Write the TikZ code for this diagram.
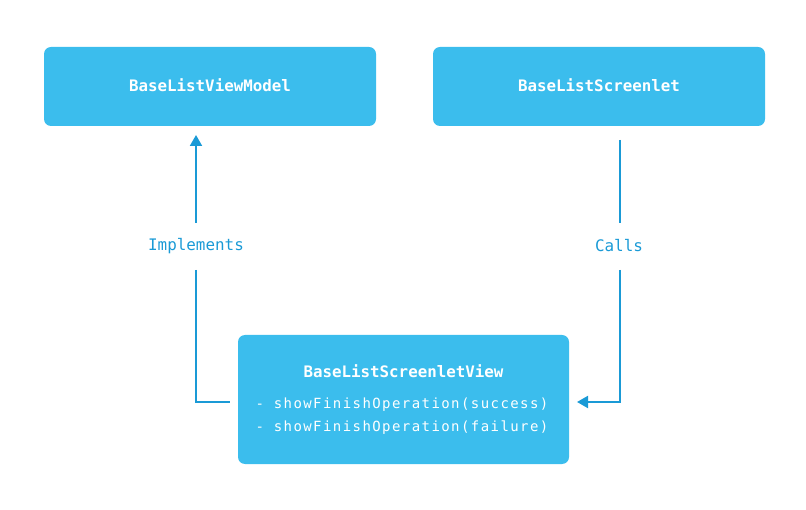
\documentclass[tikz,border=0pt]{standalone}
\usepackage{fontspec}
\setmonofont{DejaVu Sans Mono}
\newfontfamily\bodymono[LetterSpace=10.2]{DejaVu Sans Mono}
\usetikzlibrary{arrows.meta}
\definecolor{boxblue}{HTML}{3BBDED}
\definecolor{lineblue}{HTML}{1A9AD6}
\tikzset{
  box/.style={fill=boxblue, draw=none, rounded corners=7pt},
  title/.style={text=white, font=\ttfamily\bfseries\fontsize{15.8}{18}\selectfont},
  body/.style={text=white, font=\bodymono\fontsize{14}{23}\selectfont, align=left},
  conn/.style={draw=lineblue, line width=2pt},
  lbl/.style={text=lineblue, font=\ttfamily\fontsize{15.9}{18}\selectfont},
  tip/.style={-{Triangle[length=11pt,width=12pt]}}
}
\begin{document}
\begin{tikzpicture}[x=1pt,y=-1pt]
\useasboundingbox (0,0) rectangle (806,510);
\fill[box] (44,47) rectangle (376,126);
\node[title] (vm) at (210,85.5) {BaseListViewModel};
\fill[box] (433,47) rectangle (765,126);
\node[title] (scr) at (599,85.5) {BaseListScreenlet};
\fill[box] (238,335) rectangle (569,464);
\node[title] (view) at (403.5,371.5) {BaseListScreenletView};
\node[body, anchor=north west] (meth) at (252,394) {- showFinishOperation(success)\\- showFinishOperation(failure)};
\node[lbl] (impl) at (196,246) {Implements};
\node[lbl] (calls) at (619,246) {Calls};
\coordinate (a1) at (196,223);
\coordinate (a2) at (196,135);
\coordinate (b1) at (196,270);
\coordinate (b2) at (230,402);
\draw[conn, tip] (a1) -- (a2);
\draw[conn] (b1) |- (b2);
\coordinate (c1) at (620,140);
\coordinate (c2) at (620,223);
\coordinate (d1) at (620,270);
\coordinate (d2) at (577,402);
\draw[conn] (c1) -- (c2);
\draw[conn, tip] (d1) |- (d2);
\end{tikzpicture}
\end{document}
